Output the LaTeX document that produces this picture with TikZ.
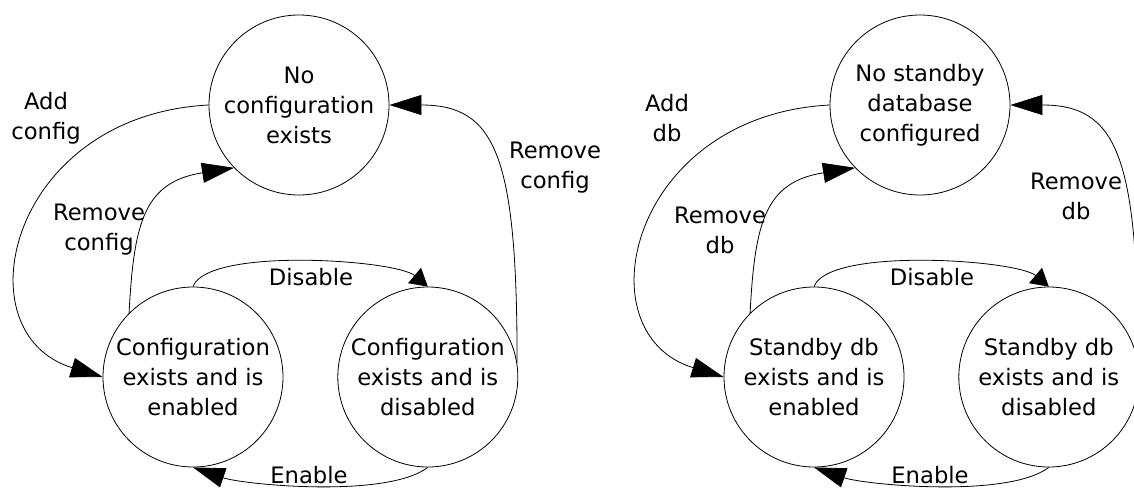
\documentclass[tikz,border=0pt]{standalone}
\usepackage{fontspec}
\newfontfamily\diafont{DejaVu Sans}
\usetikzlibrary{arrows.meta,positioning}

\begin{document}
\begin{tikzpicture}[
    x=0.75pt, y=0.75pt,
    state/.style={draw, circle, line width=0.6pt, minimum size=135pt, inner sep=0pt, align=center, font=\diafont\fontsize{17}{22.5}\selectfont},
    arr/.style={-{Triangle[length=24pt,width=15pt]}, line width=0.6pt},
    arrsmall/.style={-{Triangle[length=13pt,width=15pt]}, line width=0.6pt},
    lbl/.style={align=center, font=\diafont\fontsize{17}{22.5}\selectfont}
  ]
  \useasboundingbox (0,0) rectangle (1134,487);
  % configuration states
  \node[state] (noconf) at (299,382) {No\\configuration\\exists};
  \node[state] (confen) at (193,110) {Configuration\\exists and is\\enabled};
  \node[state, right=40.5pt of confen] (confdis) {Configuration\\exists and is\\disabled};
  \draw[arr] (noconf.180) to[out=183, in=163, out distance=150pt, in distance=112pt] (confen.180);
  \draw[arr] (confen.135) to[out=87, in=189, looseness=1.3] (noconf.224);
  \draw[arr] (confdis.9) to[out=90, in=0, out distance=155pt, in distance=80pt] (noconf.0);
  \draw[arrsmall] (confen.90) to[out=70, in=140, looseness=0.46] (confdis.90);
  \draw[arr] (confdis.270) to[out=217, in=-19, looseness=0.57] (confen.270);
  \node[lbl] (addconf) at (46,369) {Add\\config};
  \node[lbl] (rmconf) at (99,257) {Remove\\config};
  \node[lbl] (rmconfout) at (555,319) {Remove\\config};
  \node[lbl] (disconf) at (311,210) {Disable};
  \node[lbl, anchor=base] (enconf) at (309,3.5) {Enable};
  % standby database states
  \begin{scope}[xshift=465.75pt]
    \node[state] (nodb) at (299,382) {No standby\\database\\configured};
    \node[state] (dben) at (193,110) {Standby db\\exists and is\\enabled};
    \node[state, right=40.5pt of dben] (dbdis) {Standby db\\exists and is\\disabled};
    \draw[arr] (nodb.180) to[out=183, in=163, out distance=150pt, in distance=112pt] (dben.180);
    \draw[arr] (dben.135) to[out=87, in=189, looseness=1.3] (nodb.224);
    \draw[arr] (dbdis.9) to[out=90, in=0, out distance=155pt, in distance=80pt] (nodb.0);
    \draw[arrsmall] (dben.90) to[out=70, in=140, looseness=0.46] (dbdis.90);
    \draw[arr] (dbdis.270) to[out=217, in=-19, looseness=0.57] (dben.270);
    \node[lbl] (adddb) at (46,369) {Add\\db};
    \node[lbl] (rmdb) at (99,257) {Remove\\db};
    \node[lbl] (rmdbout) at (455,291) {Remove\\db};
    \node[lbl] (disdb) at (311,210) {Disable};
    \node[lbl, anchor=base] (endb) at (309,3.5) {Enable};
  \end{scope}
\end{tikzpicture}
\end{document}
